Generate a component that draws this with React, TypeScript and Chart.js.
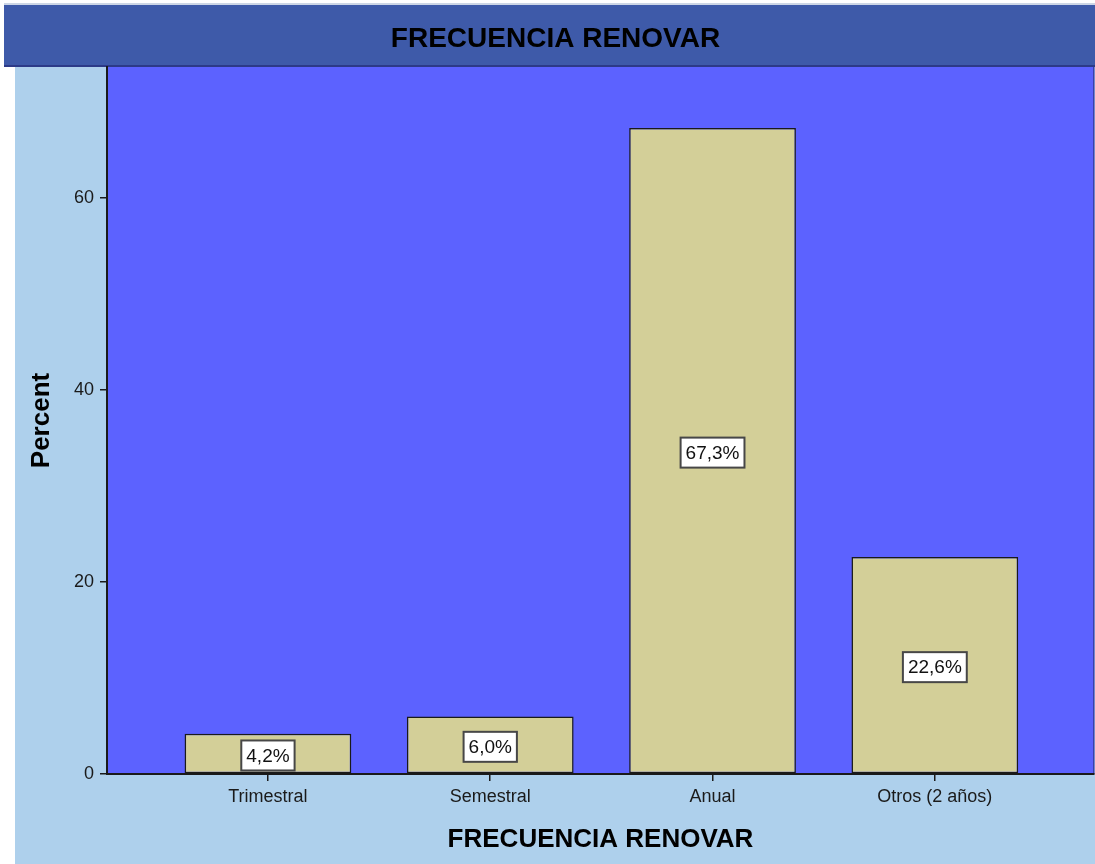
import React, { useEffect, useRef } from 'react';
import { Chart, registerables } from 'chart.js';

Chart.register(...registerables);

const categories = ['Trimestral', 'Semestral', 'Anual', 'Otros (2 años)'];
const percents = [4.2, 6.0, 67.3, 22.6];
const yTickValues = [0, 20, 40, 60];
const chartTitle = 'FRECUENCIA RENOVAR';
const xAxisTitle = 'FRECUENCIA RENOVAR';
const yAxisTitle = 'Percent';

const FONT = '"Liberation Sans", Arial, sans-serif';
const fmt = (v: number) => v.toFixed(1).replace('.', ',') + '%';

const backgroundPlugin = {
  id: 'spssBackground',
  beforeDraw(chart: any) {
    const { ctx, chartArea: a, width, height } = chart;
    ctx.save();
    ctx.fillStyle = '#ffffff';
    ctx.fillRect(0, 0, width, height);
    ctx.fillStyle = '#aed0ec';
    ctx.fillRect(15, 66, width - 15, height - 66);
    ctx.fillStyle = '#cdd6e6';
    ctx.fillRect(4, 3, width - 4, 2);
    ctx.fillStyle = '#3e5aa9';
    ctx.fillRect(4, 5, width - 4, 61);
    ctx.fillStyle = '#5c62ff';
    ctx.fillRect(a.left, a.top, a.right - a.left, a.bottom - a.top);
    ctx.fillStyle = '#2c3a88';
    ctx.fillRect(4, 65, width - 4, 2);
    ctx.fillStyle = '#3b40a8';
    ctx.fillRect(a.right - 1, a.top, 1.5, a.bottom - a.top);
    ctx.restore();
  },
};

const labelPlugin = {
  id: 'valueBoxes',
  afterDatasetsDraw(chart: any) {
    const { ctx } = chart;
    const meta = chart.getDatasetMeta(0);
    ctx.save();
    ctx.font = `19px ${FONT}`;
    meta.data.forEach((bar: any, i: number) => {
      const { x, y, base } = bar.getProps(['x', 'y', 'base'], true);
      const text = fmt(percents[i]);
      const cy = (y + base) / 2 + 2;
      const tw = ctx.measureText(text).width;
      const w = tw + 10;
      const h = 30;
      ctx.fillStyle = '#ffffff';
      ctx.fillRect(x - w / 2, cy - h / 2, w, h);
      ctx.strokeStyle = '#474747';
      ctx.lineWidth = 2;
      ctx.strokeRect(x - w / 2, cy - h / 2, w, h);
      ctx.fillStyle = '#111111';
      ctx.textAlign = 'center';
      ctx.textBaseline = 'middle';
      ctx.fillText(text, x, cy + 1);
    });
    ctx.restore();
  },
};

export default function App() {
  const canvasRef = useRef<HTMLCanvasElement | null>(null);

  useEffect(() => {
    document.body.style.margin = '0';
    const canvas = canvasRef.current;
    if (!canvas) return;
    const chart = new Chart(canvas, {
      type: 'bar',
      data: {
        datasets: [
          {
            label: yAxisTitle,
            data: percents.map((v, i) => ({ x: i, y: v })),
            backgroundColor: '#d3cf98',
            borderColor: '#1a1a1a',
            borderWidth: 1.5,
            borderSkipped: false,
            categoryPercentage: 1,
            barPercentage: 0.75,
          },
        ],
      },
      options: {
        animation: false,
        responsive: false,
        devicePixelRatio: 1,
        layout: { padding: { left: 17, right: 1, top: 0, bottom: 0 } },
        plugins: {
          legend: { display: false },
          tooltip: { enabled: false },
          title: {
            display: true,
            text: chartTitle,
            color: '#000000',
            font: { family: FONT, size: 28, weight: 'bold', lineHeight: 1.2 },
            padding: { top: 22, bottom: 11.4 },
          },
        },
        scales: {
          x: {
            type: 'linear',
            offset: false,
            min: -0.724,
            max: 3.716,
            afterBuildTicks: (scale: any) => {
              scale.ticks = categories.map((_, i) => ({ value: i }));
            },
            afterFit: (scale: any) => {
              scale.height = 90;
            },
            ticks: {
              autoSkip: false,
              maxRotation: 0,
              padding: 5,
              color: '#1a1a1a',
              font: { family: FONT, size: 18 },
              callback: (value: any) => categories[Number(value)] ?? '',
            },
            grid: {
              offset: false,
              drawOnChartArea: false,
              drawTicks: true,
              tickLength: 7,
              color: '#1a1a1a',
              lineWidth: 1.5,
            },
            border: { display: true, color: '#1a1a1a', width: 2 },
            title: {
              display: true,
              text: xAxisTitle,
              color: '#000000',
              font: { family: FONT, size: 26, weight: 'bold', lineHeight: 1.2 },
              padding: { top: 0, bottom: 9 },
            },
          },
          y: {
            min: 0,
            max: 73.65,
            afterBuildTicks: (scale: any) => {
              scale.ticks = yTickValues.map((v) => ({ value: v }));
            },
            afterFit: (scale: any) => {
              scale.width = 90;
            },
            ticks: {
              padding: 6,
              color: '#1a1a1a',
              font: { family: FONT, size: 18 },
            },
            grid: {
              drawOnChartArea: false,
              drawTicks: true,
              tickLength: 7,
              color: '#1a1a1a',
              lineWidth: 1.5,
            },
            border: { display: true, color: '#1a1a1a', width: 2 },
            title: {
              display: true,
              text: yAxisTitle,
              color: '#000000',
              font: { family: FONT, size: 26, weight: 'bold', lineHeight: 1.2 },
              padding: { top: 9, bottom: 0 },
            },
          },
        },
      },
      plugins: [backgroundPlugin, labelPlugin],
    } as any);
    return () => chart.destroy();
  }, []);

  return (
    <div style={{ width: 1095, height: 864 }}>
      <canvas ref={canvasRef} width={1095} height={864} style={{ display: 'block' }} />
    </div>
  );
}
